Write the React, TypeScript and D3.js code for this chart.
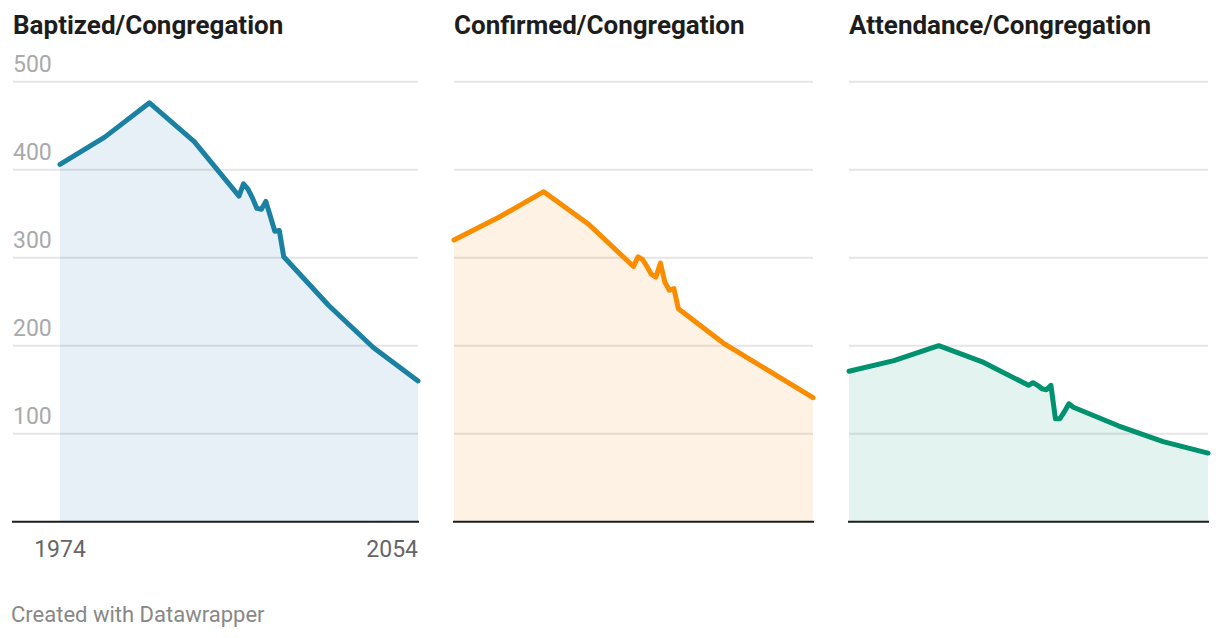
import React, { useEffect, useRef } from "react";
import * as d3 from "d3";

const years = [
  1974, 1984, 1994, 2004, 2014, 2015, 2016, 2017, 2018, 2019, 2020, 2021,
  2022, 2023, 2024, 2034, 2044, 2054,
];

const baptized = [
  406, 437, 476, 432, 370, 384, 378, 368, 356, 355, 364, 347, 330, 331, 301,
  246, 198, 160,
];

const confirmed = [
  320, 346, 375, 338, 290, 301, 298, 290, 281, 278, 294, 272, 263, 265, 242,
  203, 172, 141,
];

const attendance = [
  171, 183, 200, 181, 155, 158, 155, 151, 150, 155, 117, 117, 125, 134, 130,
  109, 91, 78,
];

const yTicks = [100, 200, 300, 400, 500];
const xTickLabels = ["1974", "2054"];

const panels = [
  { title: "Baptized/Congregation", values: baptized, line: "#1b81a3", fill: "#e7f0f7" },
  { title: "Confirmed/Congregation", values: confirmed, line: "#fa8c00", fill: "#fef2e4" },
  { title: "Attendance/Congregation", values: attendance, line: "#00916e", fill: "#e3f4f0" },
];

const App = () => {
  const svgRef = useRef<SVGSVGElement | null>(null);

  useEffect(() => {
    const W = 1220;
    const H = 638;
    const top = 81.7;
    const bottom = 521.7;
    // plot x ranges for each panel, and where the gridlines start
    const ranges = [
      { x0: 60, x1: 418, g0: 13 },
      { x0: 454, x1: 813, g0: 454 },
      { x0: 849, x1: 1208, g0: 849 },
    ];

    const root = d3.select(svgRef.current);
    root.selectAll("*").remove();
    root.attr("width", W).attr("height", H).style("font-family", "Roboto, sans-serif");

    const y = d3.scaleLinear().domain([0, 500]).range([bottom, top]);

    panels.forEach((p, i) => {
      const r = ranges[i];
      const x = d3.scaleLinear().domain([1974, 2054]).range([r.x0, r.x1]);
      const g = root.append("g");
      const data = years.map((yr, j) => ({ year: yr, value: p.values[j] }));

      // Title
      g.append("text")
        .attr("x", r.g0)
        .attr("y", 34)
        .attr("font-size", 26)
        .attr("font-weight", 700)
        .attr("fill", "#1d1d1d")
        .text(p.title);

      // Area
      const area = d3
        .area<{ year: number; value: number }>()
        .x((d) => x(d.year))
        .y0(y(0))
        .y1((d) => y(d.value));
      g.append("path").datum(data).attr("d", area).attr("fill", p.fill);

      // Gridlines
      g.selectAll(".grid")
        .data(yTicks)
        .enter()
        .append("line")
        .attr("x1", r.g0)
        .attr("x2", r.x1)
        .attr("y1", (d) => y(d))
        .attr("y2", (d) => y(d))
        .attr("stroke", "#000")
        .attr("stroke-opacity", 0.1)
        .attr("stroke-width", 2);

      // Y labels only on the first panel
      if (i === 0) {
        g.selectAll(".ylab")
          .data(yTicks)
          .enter()
          .append("text")
          .attr("x", r.g0)
          .attr("y", (d) => y(d) - 9.5)
          .attr("font-size", 23)
          .attr("fill", "#aaaaaa")
          .text((d) => d);

        g.append("text")
          .attr("x", x(1974))
          .attr("y", 557)
          .attr("text-anchor", "middle")
          .attr("font-size", 23)
          .attr("fill", "#666")
          .text(xTickLabels[0]);
        g.append("text")
          .attr("x", x(2054))
          .attr("y", 557)
          .attr("text-anchor", "end")
          .attr("font-size", 23)
          .attr("fill", "#666")
          .text(xTickLabels[1]);
      }

      // Line
      const line = d3
        .line<{ year: number; value: number }>()
        .x((d) => x(d.year))
        .y((d) => y(d.value));
      g.append("path")
        .datum(data)
        .attr("d", line)
        .attr("fill", "none")
        .attr("stroke", p.line)
        .attr("stroke-width", 5)
        .attr("stroke-linejoin", "round")
        .attr("stroke-linecap", "round");

      // Baseline
      g.append("line")
        .attr("x1", r.g0 - 1)
        .attr("x2", r.x1 + 1)
        .attr("y1", y(0))
        .attr("y2", y(0))
        .attr("stroke", "#1d1d1d")
        .attr("stroke-width", 2);
    });

    root
      .append("text")
      .attr("x", 11)
      .attr("y", 622)
      .attr("font-size", 22)
      .attr("fill", "#888")
      .text("Created with Datawrapper");
  }, []);

  return (
    <svg
      ref={svgRef}
      style={{ position: "absolute", left: 0, top: 0, display: "block" }}
    ></svg>
  );
};

export default App;
